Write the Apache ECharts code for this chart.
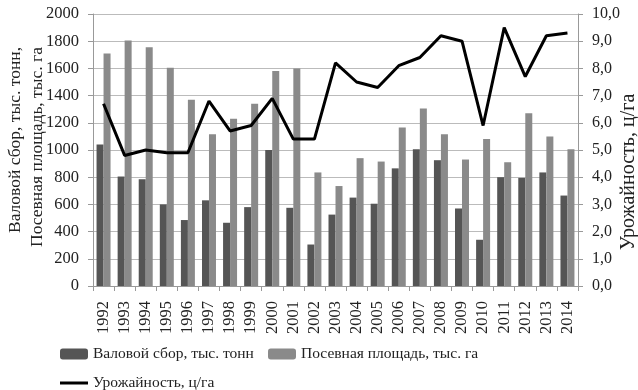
<!DOCTYPE html>
<html><head><meta charset="utf-8">
<script src="https://cdn.jsdelivr.net/npm/echarts@6/dist/echarts.min.js"></script>
<style>html,body{margin:0;padding:0;background:#fff}#c{width:638px;height:390px}</style>
</head><body><div id="c"></div>
<script>
const years = ['1992','1993','1994','1995','1996','1997','1998','1999','2000','2001','2002','2003','2004','2005','2006','2007','2008','2009','2010','2011','2012','2013','2014'];
const harvest = [1040,805,785,600,485,630,465,580,1000,575,305,525,650,605,865,1005,925,570,340,800,795,835,665];
const area = [1710,1805,1755,1605,1370,1115,1230,1340,1580,1600,835,735,940,915,1165,1305,1115,930,1080,910,1270,1100,1005];
const yieldV = [6.7,4.8,5.0,4.9,4.9,6.8,5.7,5.9,6.9,5.4,5.4,8.2,7.5,7.3,8.1,8.4,9.2,9.0,5.9,9.5,7.7,9.2,9.3];
const names = ['Валовой сбор, тыс. тонн','Посевная площадь, тыс. га','Урожайность, ц/га'];
const leftTitle = ['Валовой сбор, тыс. тонн,','Посевная площадь, тыс. га'];
const F = 'Liberation Serif';
const LT = {fontFamily:F,fontSize:15.5,color:'#222'};
const chart = echarts.init(document.getElementById('c'));
chart.setOption({
  animation:false,
  textStyle:{fontFamily:F},
  grid:{left:93,right:60,top:14,bottom:104},
  legend:[
    {data:[names[0]],left:55,top:341,itemWidth:28,itemHeight:11,textStyle:LT},
    {data:[names[1]],left:263,top:341,itemWidth:28,itemHeight:11,textStyle:LT},
    {data:[{name:names[2],icon:'path://M0,0H28V3H0Z'}],left:55,top:370,itemWidth:28,itemHeight:3,textStyle:LT}
  ],
  graphic:[
    {type:'text',x:15,y:140,rotation:Math.PI/2,style:{text:leftTitle[0],font:'17.5px "Liberation Serif"',fill:'#222',align:'center',verticalAlign:'middle'}},
    {type:'text',x:37,y:147,rotation:Math.PI/2,style:{text:leftTitle[1],font:'17.5px "Liberation Serif"',fill:'#222',align:'center',verticalAlign:'middle'}},
    {type:'text',x:629,y:172,rotation:Math.PI/2,style:{text:names[2],font:'20px "Liberation Serif"',fill:'#222',align:'center',verticalAlign:'middle'}}
  ],
  xAxis:{type:'category',data:years,
    axisLine:{lineStyle:{color:'#999'}},
    axisTick:{show:true,lineStyle:{color:'#999'},length:5},
    axisLabel:{rotate:90,interval:0,fontFamily:F,fontSize:16.5,color:'#222',margin:15}},
  yAxis:[
    {type:'value',min:0,max:2000,interval:200,
     axisLine:{show:true,lineStyle:{color:'#999'}},
     axisTick:{show:true,lineStyle:{color:'#999'},length:5},
     splitLine:{lineStyle:{color:'#bbb'}},
     axisLabel:{fontFamily:F,fontSize:16.5,color:'#222',margin:14,formatter:v=>String(v)}},
    {type:'value',min:0,max:10,interval:1,position:'right',
     axisLine:{show:true,lineStyle:{color:'#999'}},
     axisTick:{show:true,lineStyle:{color:'#999'},length:5},
     splitLine:{show:false},
     axisLabel:{fontFamily:F,fontSize:16,color:'#222',margin:14,formatter:v=>v.toFixed(1).replace('.',',')}}
  ],
  series:[
    {name:names[0],type:'bar',data:harvest,barWidth:7,barGap:'0%',itemStyle:{color:'#555'}},
    {name:names[1],type:'bar',data:area,barWidth:7,barGap:'0%',itemStyle:{color:'#8a8a8a'}},
    {name:names[2],type:'line',yAxisIndex:1,data:yieldV,symbol:'none',lineStyle:{color:'#000',width:3},itemStyle:{color:'#000'}}
  ]
});
</script></body></html>
